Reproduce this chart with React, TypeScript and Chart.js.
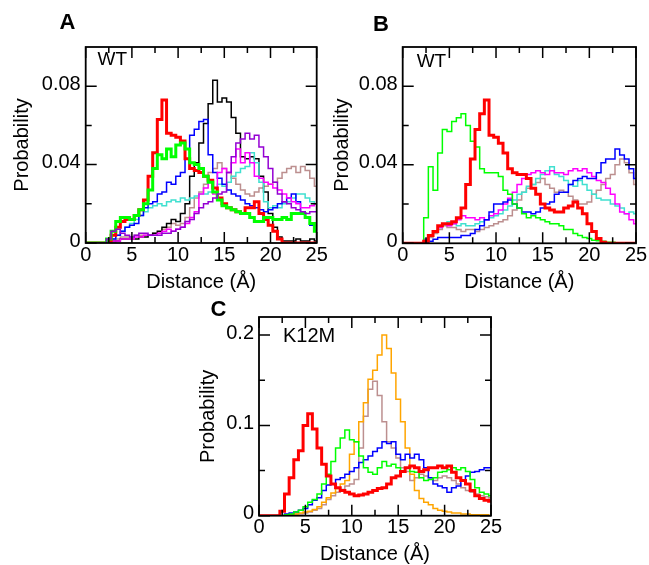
import React, { useEffect, useRef } from 'react';
import { Chart, registerables } from 'chart.js';

Chart.register(...registerables);

const FONT = '"Liberation Sans", Arial, Helvetica, sans-serif';

// Bin centres (Å)
const distanceBins = [
  0, 0.5, 1, 1.5, 2, 2.5, 3, 3.5, 4, 4.5,
  5, 5.5, 6, 6.5, 7, 7.5, 8, 8.5, 9, 9.5,
  10, 10.5, 11, 11.5, 12, 12.5, 13, 13.5, 14, 14.5,
  15, 15.5, 16, 16.5, 17, 17.5, 18, 18.5, 19, 19.5,
  20, 20.5, 21, 21.5, 22, 22.5, 23, 23.5, 24, 24.5,
  25,
];

const xMajorTicks = [0, 5, 10, 15, 20, 25];
const xMinorTicks = [2.5, 7.5, 12.5, 17.5, 22.5];
const yMajorTicksAB = [0, 0.04, 0.08];
const yMinorTicksAB = [0.02, 0.06];
const yTickLabelsAB = ['0', '0.04', '0.08'];
const yMajorTicksC = [0, 0.1, 0.2];
const yMinorTicksC = [0.05, 0.15];
const yTickLabelsC = ['0', '0.1', '0.2'];

// ---------- Panel A (WT) ----------
const aRed = [
  0, 0, 0, 0, 0, 0.001, 0.004, 0.008, 0.011, 0.012,
  0.012, 0.014, 0.017, 0.022, 0.034, 0.046, 0.063, 0.073, 0.056, 0.055,
  0.054, 0.052, 0.043, 0.038, 0.037, 0.036, 0.034, 0.032, 0.028, 0.023,
  0.020, 0.018, 0.017, 0.016, 0.015, 0.018, 0.018, 0.021, 0.015, 0.012,
  0.009, 0.006, 0.002, 0, 0, 0, 0, 0, 0, 0,
  0,
];
const aGreen = [
  0, 0, 0, 0, 0, 0.002, 0.006, 0.011, 0.013, 0.013,
  0.012, 0.014, 0.017, 0.020, 0.027, 0.038, 0.045, 0.043, 0.048, 0.044,
  0.050, 0.051, 0.048, 0.041, 0.040, 0.038, 0.034, 0.031, 0.026, 0.022,
  0.019, 0.018, 0.017, 0.016, 0.015, 0.015, 0.013, 0.011, 0.011, 0.013,
  0.013, 0.012, 0.012, 0.013, 0.012, 0.015, 0.015, 0.015, 0.013, 0.010,
  0.006,
];
const aBlue = [
  0, 0, 0, 0, 0, 0.001, 0.002, 0.004, 0.006, 0.008,
  0.009, 0.010, 0.014, 0.018, 0.020, 0.021, 0.025, 0.026, 0.031, 0.030,
  0.034, 0.036, 0.043, 0.055, 0.058, 0.062, 0.063, 0.045, 0.036, 0.033,
  0.030, 0.027, 0.025, 0.024, 0.022, 0.020, 0.019, 0.018, 0.017, 0.016,
  0.017, 0.018, 0.020, 0.021, 0.023, 0.025, 0.021, 0.016, 0.013, 0.009,
  0.006,
];
const aBlack = [
  0, 0, 0, 0, 0, 0, 0.001, 0.001, 0.002, 0.002,
  0.002, 0.002, 0.003, 0.003, 0.004, 0.005, 0.006, 0.008, 0.010, 0.012,
  0.011, 0.015, 0.020, 0.034, 0.041, 0.051, 0.061, 0.071, 0.083, 0.072,
  0.074, 0.072, 0.064, 0.056, 0.044, 0.043, 0.044, 0.043, 0.034, 0.026,
  0.015, 0.008, 0.003, 0.001, 0.001, 0.001, 0.002, 0.001, 0.001, 0.002,
  0.001,
];
const aCyan = [
  0, 0, 0, 0, 0, 0, 0.002, 0.004, 0.006, 0.008,
  0.010, 0.012, 0.014, 0.016, 0.018, 0.019, 0.020, 0.019, 0.021, 0.022,
  0.021, 0.023, 0.022, 0.023, 0.024, 0.025, 0.025, 0.026, 0.028, 0.030,
  0.029, 0.031, 0.034, 0.036, 0.038, 0.039, 0.046, 0.041, 0.031, 0.021,
  0.018, 0.019, 0.018, 0.020, 0.021, 0.023, 0.025, 0.025, 0.023, 0.021,
  0.020,
];
const aMagenta = [
  0, 0, 0, 0, 0, 0, 0.001, 0.001, 0.002, 0.002,
  0.002, 0.003, 0.003, 0.004, 0.004, 0.004, 0.005, 0.006, 0.007, 0.006,
  0.007, 0.008, 0.010, 0.013, 0.016, 0.025, 0.028, 0.031, 0.025, 0.036,
  0.038, 0.036, 0.041, 0.048, 0.041, 0.046, 0.041, 0.034, 0.033, 0.031,
  0.030, 0.028, 0.027, 0.025, 0.023, 0.021, 0.020, 0.018, 0.018, 0.019,
  0.020,
];
const aPurple = [
  0, 0, 0, 0, 0, 0.002, 0.006, 0.007, 0.005, 0.004,
  0.003, 0.004, 0.005, 0.005, 0.004, 0.004, 0.004, 0.005, 0.005, 0.006,
  0.007, 0.008, 0.011, 0.012, 0.015, 0.018, 0.020, 0.021, 0.023, 0.025,
  0.026, 0.036, 0.044, 0.051, 0.053, 0.056, 0.053, 0.055, 0.049, 0.044,
  0.038, 0.031, 0.025, 0.021, 0.020, 0.018, 0.017, 0.016, 0.015, 0.016,
  0.016,
];
const aBrown = [
  0, 0, 0, 0, 0, 0, 0, 0.002, 0.003, 0.003,
  0.003, 0.004, 0.004, 0.004, 0.004, 0.005, 0.005, 0.007, 0.008, 0.010,
  0.009, 0.010, 0.013, 0.018, 0.023, 0.026, 0.030, 0.036, 0.038, 0.041,
  0.038, 0.036, 0.033, 0.030, 0.027, 0.025, 0.024, 0.026, 0.028, 0.029,
  0.030, 0.031, 0.033, 0.036, 0.038, 0.039, 0.036, 0.039, 0.037, 0.033,
  0.029,
];

// ---------- Panel B (WT) ----------
const bGreen = [
  0, 0, 0, 0, 0, 0.013, 0.039, 0.027, 0.046, 0.058,
  0.057, 0.062, 0.064, 0.066, 0.060, 0.052, 0.049, 0.038, 0.036, 0.036,
  0.036, 0.034, 0.027, 0.025, 0.020, 0.018, 0.015, 0.013, 0.014, 0.013,
  0.012, 0.011, 0.010, 0.010, 0.009, 0.007, 0.007, 0.005, 0.004, 0.003,
  0.0025, 0.0015, 0.0013, 0.001, 0.0005, 0.0005, 0.0003, 0, 0, 0,
  0,
];
const bRed = [
  0, 0, 0, 0, 0, 0.001, 0.004, 0.006, 0.009, 0.010,
  0.010, 0.011, 0.013, 0.018, 0.030, 0.043, 0.058, 0.066, 0.073, 0.055,
  0.054, 0.051, 0.046, 0.038, 0.036, 0.035, 0.035, 0.033, 0.028, 0.025,
  0.020, 0.018, 0.017, 0.016, 0.016, 0.018, 0.019, 0.021, 0.018, 0.015,
  0.010, 0.006, 0.0025, 0.0005, 0, 0, 0, 0, 0, 0,
  0,
];
const bBlue = [
  0, 0, 0, 0, 0, 0.0005, 0.001, 0.002, 0.003, 0.003,
  0.003, 0.003, 0.003, 0.004, 0.004, 0.005, 0.007, 0.009, 0.012, 0.016,
  0.020, 0.020, 0.021, 0.022, 0.020, 0.018, 0.016, 0.016, 0.015, 0.016,
  0.018, 0.020, 0.021, 0.025, 0.026, 0.026, 0.030, 0.032, 0.033, 0.034,
  0.033, 0.033, 0.036, 0.041, 0.043, 0.043, 0.048, 0.045, 0.043, 0.038,
  0.033,
];
const bMagenta = [
  0, 0, 0, 0, 0, 0.002, 0.004, 0.006, 0.008, 0.010,
  0.009, 0.010, 0.012, 0.014, 0.013, 0.013, 0.012, 0.013, 0.012, 0.014,
  0.015, 0.017, 0.020, 0.023, 0.026, 0.030, 0.033, 0.035, 0.036, 0.037,
  0.036, 0.035, 0.037, 0.036, 0.036, 0.035, 0.037, 0.038, 0.037, 0.038,
  0.036, 0.034, 0.032, 0.031, 0.028, 0.025, 0.020, 0.016, 0.015, 0.012,
  0.010,
];
const bCyan = [
  0, 0, 0, 0, 0, 0.002, 0.004, 0.006, 0.008, 0.010,
  0.011, 0.010, 0.009, 0.010, 0.009, 0.009, 0.010, 0.011, 0.012, 0.013,
  0.014, 0.015, 0.017, 0.019, 0.022, 0.025, 0.026, 0.029, 0.030, 0.033,
  0.035, 0.037, 0.039, 0.035, 0.034, 0.032, 0.030, 0.029, 0.032, 0.030,
  0.027, 0.025, 0.023, 0.022, 0.022, 0.020, 0.019, 0.018, 0.015, 0.016,
  0.015,
];
const bBrown = [
  0, 0, 0, 0, 0, 0.001, 0.003, 0.005, 0.007, 0.009,
  0.008, 0.008, 0.007, 0.006, 0.007, 0.007, 0.006, 0.007, 0.008, 0.009,
  0.010, 0.011, 0.012, 0.014, 0.017, 0.022, 0.026, 0.028, 0.030, 0.031,
  0.033, 0.030, 0.028, 0.026, 0.027, 0.026, 0.024, 0.022, 0.020, 0.020,
  0.021, 0.025, 0.027, 0.030, 0.033, 0.035, 0.040, 0.043, 0.041, 0.036,
  0.030,
];

// ---------- Panel C (K12M) ----------
const cRed = [
  0, 0, 0, 0, 0, 0.005, 0.024, 0.042, 0.062, 0.072,
  0.100, 0.113, 0.096, 0.075, 0.057, 0.044, 0.035, 0.031, 0.028, 0.026,
  0.024, 0.022, 0.023, 0.024, 0.026, 0.028, 0.030, 0.031, 0.035, 0.042,
  0.044, 0.049, 0.053, 0.055, 0.053, 0.049, 0.051, 0.053, 0.053, 0.055,
  0.053, 0.055, 0.048, 0.042, 0.039, 0.035, 0.028, 0.022, 0.019, 0.017,
  0.016,
];
const cGreen = [
  0, 0, 0, 0, 0, 0, 0.001, 0.002, 0.004, 0.006,
  0.010, 0.015, 0.018, 0.024, 0.035, 0.046, 0.060, 0.075, 0.086, 0.095,
  0.084, 0.082, 0.066, 0.053, 0.048, 0.046, 0.053, 0.060, 0.055, 0.057,
  0.053, 0.049, 0.053, 0.049, 0.048, 0.042, 0.039, 0.040, 0.042, 0.048,
  0.049, 0.051, 0.053, 0.051, 0.053, 0.049, 0.040, 0.031, 0.026, 0.024,
  0.022,
];
const cBlue = [
  0, 0, 0, 0, 0, 0, 0.002, 0.003, 0.004, 0.006,
  0.008, 0.012, 0.017, 0.020, 0.028, 0.034, 0.035, 0.040, 0.042, 0.046,
  0.049, 0.053, 0.059, 0.062, 0.066, 0.071, 0.075, 0.082, 0.080, 0.082,
  0.068, 0.062, 0.068, 0.064, 0.068, 0.062, 0.053, 0.042, 0.035, 0.033,
  0.031, 0.026, 0.031, 0.033, 0.039, 0.044, 0.048, 0.049, 0.051, 0.053,
  0.053,
];
const cOrange = [
  0, 0, 0, 0, 0, 0, 0.001, 0.001, 0.002, 0.003,
  0.004, 0.005, 0.007, 0.010, 0.015, 0.020, 0.025, 0.030, 0.035, 0.039,
  0.068, 0.082, 0.104, 0.125, 0.151, 0.161, 0.178, 0.200, 0.185, 0.158,
  0.129, 0.104, 0.075, 0.046, 0.028, 0.019, 0.015, 0.012, 0.008, 0.006,
  0.005, 0.004, 0.003, 0.003, 0.002, 0.002, 0.001, 0.001, 0.001, 0.001,
  0,
];
const cBrown = [
  0, 0, 0, 0, 0, 0, 0.001, 0.001, 0.002, 0.002,
  0.003, 0.004, 0.006, 0.008, 0.012, 0.018, 0.022, 0.026, 0.029, 0.033,
  0.035, 0.040, 0.075, 0.110, 0.140, 0.149, 0.133, 0.104, 0.082, 0.075,
  0.064, 0.053, 0.049, 0.039, 0.042, 0.046, 0.044, 0.042, 0.039, 0.042,
  0.044, 0.042, 0.039, 0.035, 0.031, 0.028, 0.026, 0.024, 0.022, 0.021,
  0.020,
];

const RED = '#ff0000';
const GREEN = '#00ff00';
const BLUE = '#0000ff';
const BLACK = '#000000';
const CYAN = '#40e0d0';
const MAGENTA = '#ff00ff';
const PURPLE = '#9400d3';
const BROWN = '#bc8f8f';
const ORANGE = '#ffa500';

type Series = { values: number[]; color: string; width: number };

type PanelProps = {
  left: number;
  top: number;
  width: number;
  height: number;
  axisW: number;
  axisH: number;
  padTop: number;
  padRight: number;
  yMax: number;
  yMajor: number[];
  yMinor: number[];
  yLabels: string[];
  series: Series[];
};

function Panel(p: PanelProps) {
  const ref = useRef<HTMLCanvasElement>(null);

  useEffect(() => {
    const canvas = ref.current;
    if (!canvas) return;
    const font = { family: FONT, size: 20 };

    const framePlugin = {
      id: 'frameTicks',
      afterDatasetsDraw(chart: any) {
        const { ctx, chartArea: a, scales } = chart;
        const xs = scales.x;
        const ys = scales.y;
        ctx.save();
        ctx.strokeStyle = '#000';
        ctx.lineWidth = 1.5;
        ctx.beginPath();
        const xTick = (vals: number[], len: number) => {
          for (const v of vals) {
            const px = xs.getPixelForValue(v);
            ctx.moveTo(px, a.bottom);
            ctx.lineTo(px, a.bottom - len);
            ctx.moveTo(px, a.top);
            ctx.lineTo(px, a.top + len);
          }
        };
        const yTick = (vals: number[], len: number) => {
          for (const v of vals) {
            const py = ys.getPixelForValue(v);
            ctx.moveTo(a.left, py);
            ctx.lineTo(a.left + len, py);
            ctx.moveTo(a.right, py);
            ctx.lineTo(a.right - len, py);
          }
        };
        xTick(xMajorTicks, 11);
        xTick(xMinorTicks, 6);
        yTick(p.yMajor, 11);
        yTick(p.yMinor, 6);
        ctx.stroke();
        ctx.lineWidth = 1.8;
        ctx.strokeRect(a.left, a.top, a.right - a.left, a.bottom - a.top);
        ctx.restore();
      },
    };

    const chart = new Chart(canvas, {
      type: 'line',
      data: {
        datasets: p.series.map((s) => ({
          data: distanceBins.map((x, i) => ({ x, y: s.values[i] })),
          borderColor: s.color,
          borderWidth: s.width,
          pointRadius: 0,
          stepped: 'middle' as const,
          fill: false,
          tension: 0,
        })),
      },
      options: {
        animation: false,
        responsive: false,
        events: [],
        layout: { padding: { top: p.padTop, right: p.padRight, left: 0, bottom: 0 } },
        plugins: {
          legend: { display: false },
          tooltip: { enabled: false },
        },
        scales: {
          x: {
            type: 'linear',
            min: 0,
            max: 25,
            grid: { display: false, drawTicks: false },
            border: { display: false },
            ticks: {
              stepSize: 5,
              font,
              color: '#000',
              padding: 0,
              maxRotation: 0,
              autoSkip: false,
              callback: (v: any) => String(v),
            },
            title: { display: true, text: 'Distance (Å)', font, color: '#000', padding: 0 },
            afterFit: (s: any) => {
              s.height = p.axisH;
            },
          },
          y: {
            type: 'linear',
            min: 0,
            max: p.yMax,
            grid: { display: false, drawTicks: false },
            border: { display: false },
            afterBuildTicks: (s: any) => {
              s.ticks = p.yMajor.map((v) => ({ value: v }));
            },
            ticks: {
              font,
              color: '#000',
              padding: 5,
              labelOffset: -2,
              autoSkip: false,
              callback: (_v: any, i: number) => p.yLabels[i],
            },
            title: { display: true, text: 'Probability', font, color: '#000', padding: 0 },
            afterFit: (s: any) => {
              s.width = p.axisW;
            },
          },
        },
      },
      plugins: [framePlugin],
    });
    return () => chart.destroy();
  }, []);

  return (
    <canvas
      ref={ref}
      width={p.width}
      height={p.height}
      style={{ position: 'absolute', left: p.left, top: p.top, width: p.width, height: p.height }}
    />
  );
}

const label = (text: string, left: number, top: number, size: number, bold: boolean) => (
  <div
    style={{
      position: 'absolute',
      left,
      top,
      fontFamily: FONT,
      fontSize: size,
      lineHeight: `${size}px`,
      fontWeight: bold ? 'bold' : 'normal',
      color: '#000',
      whiteSpace: 'nowrap',
    }}
  >
    {text}
  </div>
);

export default function App() {
  return (
    <div
      style={{
        position: 'fixed',
        left: 0,
        top: 0,
        width: 649,
        height: 565,
        background: '#fff',
        overflow: 'hidden',
      }}
    >
      <Panel
        left={10}
        top={30}
        width={320}
        height={264}
        axisW={75.7}
        axisH={51}
        padTop={11}
        padRight={13.3}
        yMax={0.1}
        yMajor={yMajorTicksAB}
        yMinor={yMinorTicksAB}
        yLabels={yTickLabelsAB}
        series={[
          { values: aPurple, color: PURPLE, width: 1.5 },
          { values: aGreen, color: GREEN, width: 3 },
          { values: aRed, color: RED, width: 3 },
          { values: aMagenta, color: MAGENTA, width: 1.5 },
          { values: aBlue, color: BLUE, width: 1.5 },
          { values: aCyan, color: CYAN, width: 1.5 },
          { values: aBlack, color: BLACK, width: 1.5 },
          { values: aBrown, color: BROWN, width: 1.5 },
        ]}
      />
      <Panel
        left={330}
        top={30}
        width={319}
        height={264}
        axisW={72.7}
        axisH={50.7}
        padTop={11}
        padRight={13}
        yMax={0.1}
        yMajor={yMajorTicksAB}
        yMinor={yMinorTicksAB}
        yLabels={yTickLabelsAB}
        series={[
          { values: bRed, color: RED, width: 3 },
          { values: bGreen, color: GREEN, width: 1.5 },
          { values: bBlue, color: BLUE, width: 1.5 },
          { values: bMagenta, color: MAGENTA, width: 1.5 },
          { values: bCyan, color: CYAN, width: 1.5 },
          { values: bBrown, color: BROWN, width: 1.5 },
        ]}
      />
      <Panel
        left={196}
        top={300}
        width={314}
        height={266}
        axisW={63}
        axisH={50.3}
        padTop={13.3}
        padRight={19}
        yMax={0.22}
        yMajor={yMajorTicksC}
        yMinor={yMinorTicksC}
        yLabels={yTickLabelsC}
        series={[
          { values: cRed, color: RED, width: 3 },
          { values: cGreen, color: GREEN, width: 1.5 },
          { values: cBlue, color: BLUE, width: 1.5 },
          { values: cOrange, color: ORANGE, width: 1.5 },
          { values: cBrown, color: BROWN, width: 1.5 },
        ]}
      />
      {label('A', 59.5, 10.7, 22, true)}
      {label('B', 373, 13.1, 22, true)}
      {label('C', 210.5, 298.1, 22, true)}
      {label('WT', 97.5, 48.9, 19, false)}
      {label('WT', 416.7, 51.3, 19, false)}
      {label('K12M', 283, 325, 20, false)}
    </div>
  );
}
